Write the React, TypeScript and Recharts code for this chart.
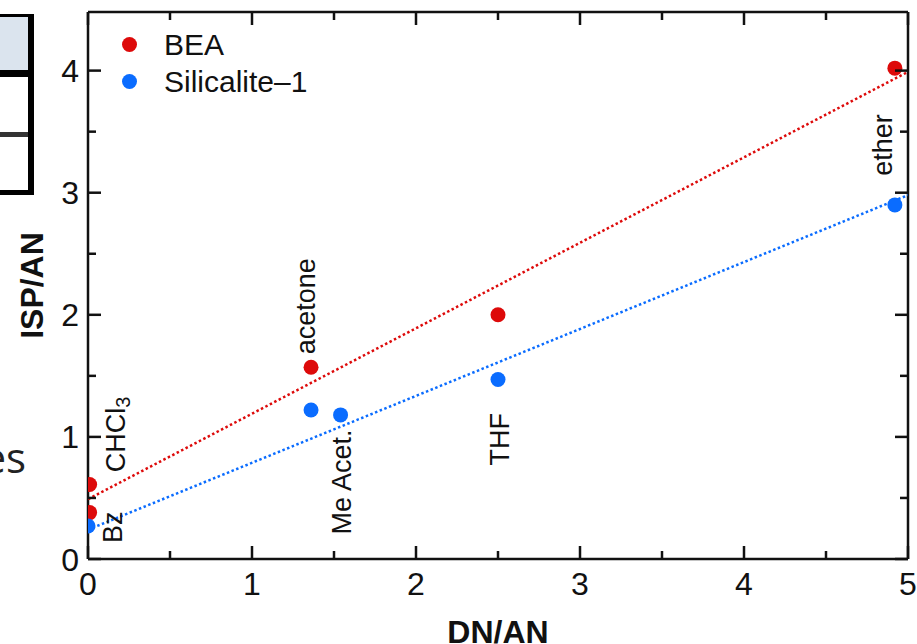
import React from 'react';
import { ScatterChart, Scatter, XAxis, YAxis, Legend } from 'recharts';

const beaDn = [0.01, 0.01, 1.36, 2.5, 4.92];
const beaIsp = [0.61, 0.38, 1.57, 2.0, 4.02];
const silDn = [0, 1.36, 1.54, 2.5, 4.92];
const silIsp = [0.27, 1.22, 1.18, 1.47, 2.9];

const fitDn = [0, 5];
const beaFitIsp = [0.49, 3.99];
const silFitIsp = [0.24, 2.98];

const solventNames = ['CHCl3', 'Bz', 'acetone', 'Me Acet.', 'THF', 'ether'];
const solventDn = [0.17, 0.15, 1.33, 1.55, 2.51, 4.85];
const solventIsp = [1.02, 0.26, 2.07, 0.63, 0.98, 3.39];

const xTicks = [0, 0.5, 1, 1.5, 2, 2.5, 3, 3.5, 4, 4.5, 5];
const yTicks = [0, 0.5, 1, 1.5, 2, 2.5, 3, 3.5, 4];

const RED = '#dd0a0a';
const BLUE = '#0a6cff';
const INK = '#111';
const FONT = '"Liberation Sans", Arial, sans-serif';

const zip = (xs: number[], ys: number[]) => xs.map((x, i) => ({ x, y: ys[i] }));

const beaData = zip(beaDn, beaIsp);
const silData = zip(silDn, silIsp);
const beaFit = zip(fitDn, beaFitIsp);
const silFit = zip(fitDn, silFitIsp);
const labelData = solventNames.map((name, i) => ({ x: solventDn[i], y: solventIsp[i], name }));

const isMajor = (v: number) => Number.isInteger(v);

const BottomTick = (props: any) => {
  const { x, y, payload } = props;
  const len = isMajor(payload.value) ? 13 : 8;
  return (
    <g>
      <line x1={x} x2={x} y1={y} y2={y - len} stroke={INK} strokeWidth={2.5} />
      {isMajor(payload.value) && (
        <text x={x} y={y + 36} textAnchor="middle" fontSize={32} fill={INK} fontFamily={FONT}>
          {payload.value}
        </text>
      )}
    </g>
  );
};

const TopTick = (props: any) => {
  const { x, y, payload } = props;
  const len = isMajor(payload.value) ? 13 : 8;
  return <line x1={x} x2={x} y1={y} y2={y + len} stroke={INK} strokeWidth={2.5} />;
};

const LeftTick = (props: any) => {
  const { x, y, payload } = props;
  const len = isMajor(payload.value) ? 13 : 8;
  return (
    <g>
      <line x1={x} x2={x + len} y1={y} y2={y} stroke={INK} strokeWidth={2.5} />
      {isMajor(payload.value) && (
        <text x={x - 9} y={y + 11.5} textAnchor="end" fontSize={32} fill={INK} fontFamily={FONT}>
          {payload.value}
        </text>
      )}
    </g>
  );
};

const RightTick = (props: any) => {
  const { x, y, payload } = props;
  const len = isMajor(payload.value) ? 13 : 8;
  return <line x1={x} x2={x - len} y1={y} y2={y} stroke={INK} strokeWidth={2.5} />;
};

const dot = (color: string) => (props: any) => (
  <circle cx={props.cx} cy={props.cy} r={7.5} fill={color} />
);

const nothing = () => <g />;

const SolventLabel = (props: any) => {
  const { cx, cy, payload } = props;
  const isChcl3 = payload.name === 'CHCl3';
  return (
    <text
      x={cx}
      y={cy}
      transform={`rotate(-90 ${cx} ${cy})`}
      textAnchor="middle"
      dominantBaseline="central"
      fontSize={27}
      fill={INK}
      fontFamily={FONT}
    >
      {isChcl3 ? (
        <>
          CHCl<tspan fontSize={20} dy={7}>3</tspan>
        </>
      ) : (
        payload.name
      )}
    </text>
  );
};

const XTitle = (props: any) => {
  const vb = props.viewBox;
  return (
    <text x={vb.x + vb.width / 2} y={vb.y + vb.height + 24} textAnchor="middle" fontSize={32} fontWeight="bold" fill={INK} fontFamily={FONT}>
      DN/AN
    </text>
  );
};

const YTitle = (props: any) => {
  const vb = props.viewBox;
  const x = vb.x + 15;
  const y = vb.y + vb.height / 2;
  return (
    <text x={x} y={y} transform={`rotate(-90 ${x} ${y})`} textAnchor="middle" fontSize={32} fontWeight="bold" fill={INK} fontFamily={FONT}>
      ISP/AN
    </text>
  );
};

const LegendBox = (props: any) => {
  const items = (props.payload || []).filter((p: any) => p.type !== 'none');
  return (
    <div style={{ fontFamily: FONT, fontSize: 30, color: INK }}>
      {items.map((p: any) => (
        <div key={p.value} style={{ display: 'flex', alignItems: 'center', height: 37 }}>
          <span style={{ width: 15, height: 15, borderRadius: '50%', background: p.color, marginRight: 27, display: 'inline-block' }} />
          <span>{p.value}</span>
        </div>
      ))}
    </div>
  );
};

const SlideFragment = () => (
  <svg width={917} height={644} style={{ position: 'absolute', left: 0, top: 0 }}>
    <rect x={0} y={17} width={28} height={53} fill="#dbe4ee" />
    <rect x={0} y={14} width={34} height={3} fill="#000" />
    <rect x={0} y={70} width={34} height={7} fill="#000" />
    <rect x={0} y={132} width={28} height={5} fill="#333" />
    <rect x={0} y={190} width={34} height={5} fill="#000" />
    <rect x={28} y={14} width={6} height={181} fill="#000" />
    <text x={26} y={473} textAnchor="end" fontSize={42} fill="#222" fontFamily='"Liberation Sans Narrow", "Open Sans", sans-serif'>
      es
    </text>
  </svg>
);

export default function App() {
  return (
    <div style={{ position: 'absolute', left: 0, top: 0, width: 917, height: 644, overflow: 'hidden', background: '#fff' }}>
      <SlideFragment />
      <div style={{ position: 'absolute', left: 0, top: 0 }}>
        <ScatterChart width={917} height={644} margin={{ top: 11, right: 8, left: 28, bottom: 25 }}>
          <XAxis
            xAxisId="b"
            type="number"
            dataKey="x"
            domain={[0, 5]}
            ticks={xTicks}
            interval={0}
            height={60}
            tickSize={0}
            tickMargin={0}
            tick={<BottomTick />}
            tickLine={false}
            axisLine={{ stroke: INK, strokeWidth: 2.5 }}
            allowDataOverflow
            label={<XTitle />}
          />
          <XAxis
            xAxisId="t"
            orientation="top"
            type="number"
            dataKey="x"
            domain={[0, 5]}
            ticks={xTicks}
            interval={0}
            height={1}
            tickSize={0}
            tickMargin={0}
            tick={<TopTick />}
            tickLine={false}
            axisLine={{ stroke: INK, strokeWidth: 2.5 }}
            allowDataOverflow
          />
          <YAxis
            yAxisId="l"
            type="number"
            dataKey="y"
            domain={[0, 4.48]}
            ticks={yTicks}
            interval={0}
            width={60}
            tickSize={0}
            tickMargin={0}
            tick={<LeftTick />}
            tickLine={false}
            axisLine={{ stroke: INK, strokeWidth: 2.5 }}
            allowDataOverflow
            label={<YTitle />}
          />
          <YAxis
            yAxisId="r"
            orientation="right"
            type="number"
            dataKey="y"
            domain={[0, 4.48]}
            ticks={yTicks}
            interval={0}
            width={1}
            tickSize={0}
            tickMargin={0}
            tick={<RightTick />}
            tickLine={false}
            axisLine={{ stroke: INK, strokeWidth: 2.5 }}
            allowDataOverflow
          />
          <Legend
            layout="vertical"
            align="center"
            verticalAlign="middle"
            wrapperStyle={{ left: 122, top: 26, width: 'auto' }}
            content={<LegendBox />}
          />
          <Scatter
            name="BEA fit"
            data={beaFit}
            xAxisId="b"
            yAxisId="l"
            legendType="none"
            shape={nothing}
            line={{ stroke: RED, strokeWidth: 2.5, strokeDasharray: '2.5 2.5' }}
            isAnimationActive={false}
          />
          <Scatter
            name="Silicalite fit"
            data={silFit}
            xAxisId="b"
            yAxisId="l"
            legendType="none"
            shape={nothing}
            line={{ stroke: BLUE, strokeWidth: 2.5, strokeDasharray: '2.5 2.5' }}
            isAnimationActive={false}
          />
          <Scatter
            name="BEA"
            data={beaData}
            xAxisId="b"
            yAxisId="l"
            fill={RED}
            shape={dot(RED)}
            isAnimationActive={false}
          />
          <Scatter
            name="Silicalite–1"
            data={silData}
            xAxisId="b"
            yAxisId="l"
            fill={BLUE}
            shape={dot(BLUE)}
            isAnimationActive={false}
          />
          <Scatter
            name="labels"
            data={labelData}
            xAxisId="t"
            yAxisId="r"
            legendType="none"
            shape={SolventLabel}
            isAnimationActive={false}
          />
        </ScatterChart>
      </div>
    </div>
  );
}
